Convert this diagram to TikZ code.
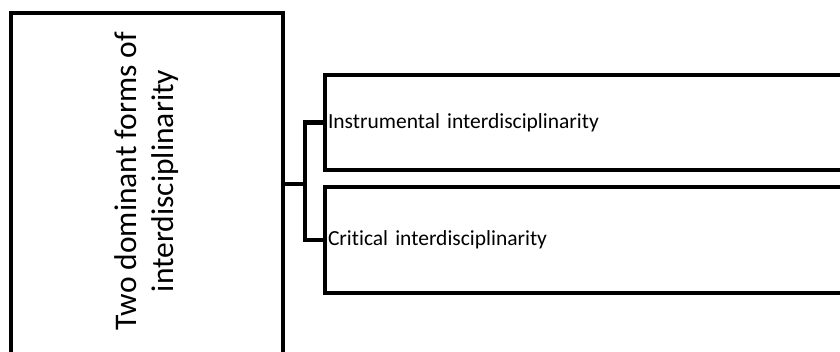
\documentclass[tikz,border=0pt]{standalone}
\usepackage{fontspec}
\setmainfont{Carlito}[Ligatures=NoCommon]

\begin{document}
\begin{tikzpicture}[x=1pt,y=-1pt,line width=4.5pt,
    leftbox/.style={draw, minimum width=272pt, minimum height=342pt, inner sep=0pt},
    itembox/.style={draw, minimum width=535pt, text width=529pt, inner xsep=3pt, align=left,
        font=\fontsize{21.5}{26}\selectfont}]

    \useasboundingbox (0,0) rectangle (840,352);
    \clip (0,0) rectangle (840,352);

    % Left box with the rotated title
    \node [leftbox] (forms) at (147,184) {};
    \node [rotate=90, align=center, inner sep=0pt, font=\fontsize{31.5}{37}\selectfont]
        (formslabel) at (147,181) {Two dominant forms of\\interdisciplinarity};

    % Branch point
    \coordinate (fork) at (305,184);
    \draw (forms.east) -- (fork);

    % The two forms, each hooked to the fork
    \foreach \nm/\y/\h/\lab in {
    instr/122.5/95/Instrumental interdisciplinarity,
    crit/240/106/Critical interdisciplinarity} {
        \node [itembox, minimum height=\h pt] (\nm) at (592.5,\y) {\lab};
        \draw (fork) |- (\nm.west);
    }

\end{tikzpicture}
\end{document}
